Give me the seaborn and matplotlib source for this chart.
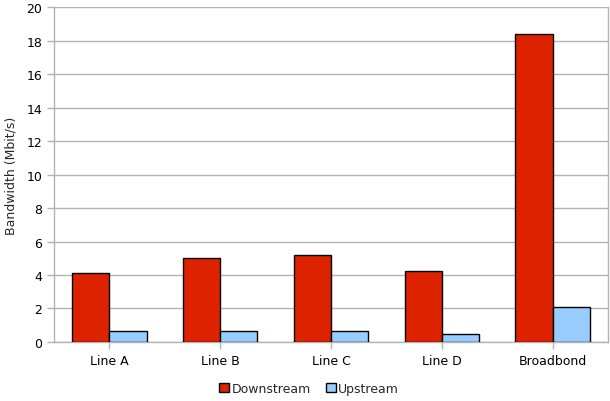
import pandas as pd
import matplotlib
matplotlib.use("Agg")
import matplotlib.pyplot as plt
import seaborn as sns

categories = ["Line A", "Line B", "Line C", "Line D", "Broadbond"]
downstream = [4.12, 5.02, 5.2, 4.22, 18.37]
upstream = [0.65, 0.65, 0.65, 0.47, 2.09]
series = ["Downstream", "Upstream"]
colors = ["#dd2200", "#99ccff"]

df = pd.DataFrame({
    "Line": categories * 2,
    "Bandwidth": downstream + upstream,
    "Series": [series[0]] * len(categories) + [series[1]] * len(categories),
})

sns.set_style("white")
plt.rcParams["font.family"] = ["DejaVu Sans"]

fig = plt.figure(figsize=(6.1, 4.02), dpi=100)
ax = fig.add_axes([0.0885, 0.1468, 0.9082, 0.8332])

sns.barplot(data=df, x="Line", y="Bandwidth", hue="Series", palette=colors,
            saturation=1, width=0.67, edgecolor="black", linewidth=1,
            ax=ax, zorder=3)

grid_col = "#b3b3b3"
ax.set_ylim(0, 20)
ax.set_yticks(range(0, 21, 2))
ax.set_xlim(-0.5, len(categories) - 0.5)
ax.yaxis.grid(True, color=grid_col, linewidth=1, zorder=0)
ax.set_axisbelow(True)
for side in ["left", "bottom", "right"]:
    ax.spines[side].set_color(grid_col)
    ax.spines[side].set_linewidth(1)
ax.spines["top"].set_visible(False)
ax.tick_params(axis="both", colors=grid_col, labelcolor="black",
               labelsize=9, length=5, width=1, direction="out",
               left=True, bottom=True)
ax.set_xlabel("")
ax.set_ylabel("Bandwidth (Mbit/s)", fontsize=9, labelpad=6)

ax.legend(loc="upper center", bbox_to_anchor=(0.46, -0.085), ncol=2,
          frameon=False, fontsize=9, handlelength=0.8, handleheight=0.8,
          handletextpad=0.2, columnspacing=1.2)

fig.savefig("out.png", dpi=100)
